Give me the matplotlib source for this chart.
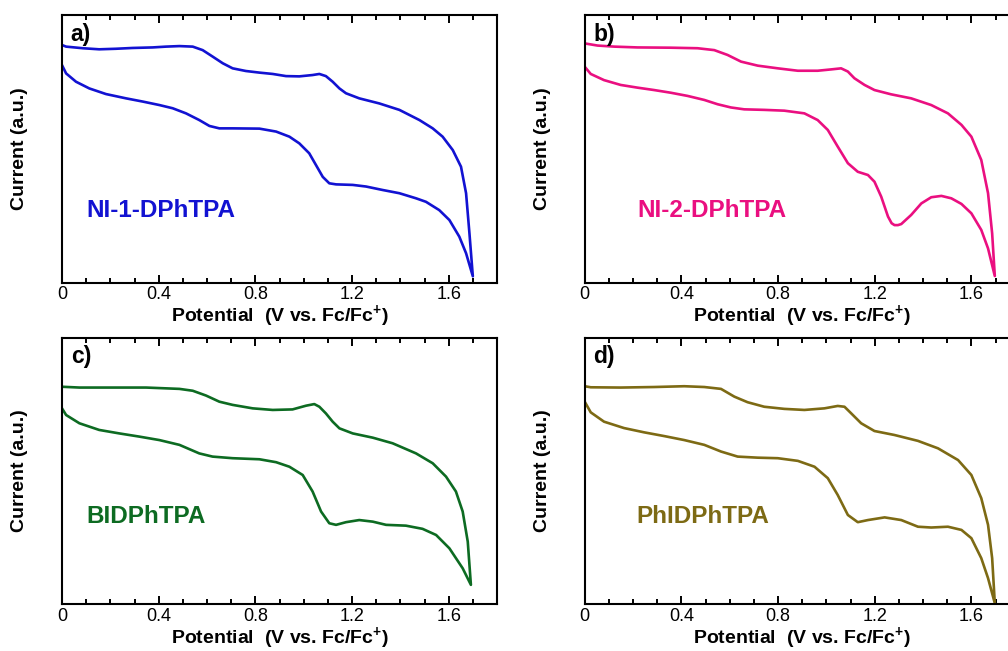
import matplotlib
matplotlib.use("Agg")
from matplotlib import pyplot as plt
from matplotlib.ticker import MultipleLocator

plt.rcParams['font.family'] = ['Liberation Sans', 'DejaVu Sans']
plt.rcParams['mathtext.fontset'] = 'custom'
plt.rcParams['mathtext.rm'] = 'Liberation Sans'
plt.rcParams['mathtext.bf'] = 'Liberation Sans:bold'

# --- data (potential in V, current in a.u.) ---
# a) NI-1-DPhTPA
a_fwd_x = [0, 0.017, 0.058, 0.113, 0.182, 0.265, 0.334, 0.403, 0.458, 0.513, 0.568, 0.610, 0.651,
           0.706, 0.817, 0.886, 0.941, 0.982, 1.023, 1.051, 1.079, 1.106, 1.134, 1.203, 1.258, 1.327,
           1.396, 1.465, 1.506, 1.561, 1.603, 1.644, 1.672, 1.70]
a_fwd_y = [81.3, 78.2, 75.1, 72.6, 70.5, 68.9, 67.7, 66.4, 65.2, 63.3, 60.8, 58.6, 57.7,
           57.7, 57.6, 56.5, 54.6, 52.1, 48.4, 44.0, 39.6, 37.2, 36.8, 36.6, 36.0, 34.7,
           33.5, 31.6, 30.3, 27.2, 23.5, 17.3, 11.1, 2.5]
a_rev_x = [1.70, 1.686, 1.672, 1.651, 1.617, 1.575, 1.534, 1.479, 1.396, 1.313, 1.230, 1.175, 1.148,
           1.120, 1.092, 1.065, 1.037, 0.982, 0.927, 0.872, 0.817, 0.761, 0.706, 0.665, 0.623, 0.582,
           0.541, 0.486, 0.430, 0.375, 0.292, 0.223, 0.154, 0.086, 0.017, 0]
a_rev_y = [2.5, 18.5, 33.5, 43.4, 49.6, 54.6, 57.7, 60.8, 64.6, 67.0, 68.9, 70.8, 72.6,
           75.1, 77.2, 78.0, 77.6, 77.1, 77.2, 78.0, 78.5, 79.1, 80.1, 82.0, 84.5, 86.9,
           88.2, 88.4, 88.2, 87.9, 87.7, 87.4, 87.2, 87.6, 88.2, 88.8]

# b) NI-2-DPhTPA
b_fwd_x = [0, 0.025, 0.080, 0.149, 0.218, 0.287, 0.356, 0.426, 0.495, 0.550, 0.605, 0.660, 0.743,
           0.826, 0.909, 0.964, 1.006, 1.047, 1.089, 1.130, 1.172, 1.199, 1.227, 1.255, 1.270, 1.282,
           1.296, 1.310, 1.351, 1.393, 1.434, 1.476, 1.517, 1.559, 1.600, 1.641, 1.669, 1.697]
b_fwd_y = [80.7, 78.0, 75.7, 73.9, 72.9, 72.0, 71.0, 69.8, 68.3, 66.7, 65.5, 64.8, 64.6,
           64.3, 63.3, 60.8, 57.1, 50.9, 44.7, 41.5, 40.3, 37.8, 32.2, 24.8, 22.3, 21.6,
           21.6, 22.0, 25.4, 29.7, 32.0, 32.5, 31.6, 29.5, 26.0, 19.8, 12.9, 2.6]
b_rev_x = [1.697, 1.686, 1.669, 1.641, 1.600, 1.559, 1.503, 1.434, 1.351, 1.268, 1.199, 1.158, 1.116,
           1.089, 1.061, 1.020, 0.964, 0.882, 0.799, 0.716, 0.647, 0.591, 0.536, 0.467, 0.356, 0.218,
           0.122, 0.053, 0]
b_rev_y = [2.6, 18.5, 33.5, 45.9, 54.6, 59.0, 63.3, 66.4, 68.9, 70.4, 72.0, 73.9, 76.4,
           78.9, 80.1, 79.7, 79.2, 79.2, 80.1, 81.1, 82.6, 85.1, 86.9, 87.6, 87.8, 87.9,
           88.2, 88.6, 89.4]

# c) BIDPhTPA
c_fwd_x = [0, 0.017, 0.072, 0.154, 0.237, 0.320, 0.403, 0.486, 0.568, 0.623, 0.706, 0.817, 0.886,
           0.941, 0.996, 1.037, 1.072, 1.106, 1.134, 1.175, 1.230, 1.286, 1.341, 1.423, 1.492, 1.548,
           1.603, 1.658, 1.692]
c_fwd_y = [73.5, 71.0, 67.9, 65.4, 64.1, 62.9, 61.6, 59.8, 56.6, 55.4, 54.8, 54.4, 53.3,
           51.6, 48.5, 42.3, 34.8, 30.4, 29.8, 30.8, 31.6, 31.0, 29.8, 29.5, 28.3, 26.0,
           21.0, 13.5, 7.3]
c_rev_x = [1.692, 1.679, 1.658, 1.630, 1.589, 1.534, 1.465, 1.368, 1.286, 1.203, 1.148, 1.120, 1.092,
           1.065, 1.044, 1.010, 0.954, 0.872, 0.789, 0.706, 0.651, 0.596, 0.541, 0.486, 0.348, 0.210,
           0.072, 0]
c_rev_y = [7.3, 23.5, 34.8, 42.3, 47.9, 52.9, 56.6, 60.4, 62.5, 64.1, 66.0, 68.5, 71.6,
           74.1, 75.1, 74.5, 73.1, 72.9, 73.5, 74.8, 76.0, 78.3, 80.1, 80.8, 81.3, 81.3,
           81.3, 81.6]

# d) PhIDPhTPA
d_fwd_x = [0, 0.025, 0.080, 0.163, 0.246, 0.329, 0.412, 0.495, 0.564, 0.633, 0.716, 0.799, 0.882,
           0.951, 1.006, 1.047, 1.089, 1.130, 1.172, 1.241, 1.310, 1.379, 1.434, 1.503, 1.559, 1.600,
           1.641, 1.669, 1.697]
d_fwd_y = [76.0, 72.0, 68.5, 66.1, 64.5, 63.1, 61.6, 59.8, 57.3, 55.4, 55.0, 54.8, 53.8,
           51.6, 47.3, 41.0, 33.5, 30.8, 31.6, 32.6, 31.6, 29.1, 28.8, 29.1, 27.9, 24.8,
           17.3, 9.8, 0.4]
d_rev_x = [1.697, 1.686, 1.669, 1.641, 1.600, 1.545, 1.462, 1.379, 1.282, 1.199, 1.144, 1.103, 1.075,
           1.047, 0.992, 0.909, 0.826, 0.743, 0.674, 0.619, 0.564, 0.495, 0.412, 0.287, 0.149, 0.025, 0]
d_rev_y = [0.4, 17.3, 29.8, 39.8, 48.5, 54.1, 58.5, 61.3, 63.5, 65.0, 67.9, 71.6, 74.1,
           74.4, 73.5, 72.9, 73.3, 74.1, 75.8, 77.9, 80.8, 81.5, 81.8, 81.5, 81.3, 81.4, 81.8]

names = ['NI-1-DPhTPA', 'NI-2-DPhTPA', 'BIDPhTPA', 'PhIDPhTPA']
letters = ['a)', 'b)', 'c)', 'd)']
colors = ['#1212d2', '#ea0f80', '#0d6b22', '#7d6a14']
name_pos = [(0.102, 27.2), (0.216, 27.2), (0.102, 32.9), (0.213, 32.9)]

curves = [(a_fwd_x, a_fwd_y, a_rev_x, a_rev_y),
          (b_fwd_x, b_fwd_y, b_rev_x, b_rev_y),
          (c_fwd_x, c_fwd_y, c_rev_x, c_rev_y),
          (d_fwd_x, d_fwd_y, d_rev_x, d_rev_y)]

fig = plt.figure(figsize=(10.08, 6.51), dpi=100)
W, H = 1008, 651
boxes = [(62, 15, 435, 268), (584.7, 15, 435, 268),
         (62, 337.7, 435, 266.6), (584.7, 337.7, 435, 266.6)]

for i, (x0, y0, w, h) in enumerate(boxes):
    ax = fig.add_axes([x0 / W, 1 - (y0 + h) / H, w / W, h / H])
    fx, fy, rx, ry = curves[i]
    ax.plot(fx + rx, fy + ry, color=colors[i], lw=1.9, solid_joinstyle='round')
    ax.set_xlim(0, 1.8)
    ax.set_ylim(0, 100)
    ax.xaxis.set_minor_locator(MultipleLocator(0.1))
    ax.set_xticks([0, 0.4, 0.8, 1.2, 1.6])
    ax.set_xticklabels(['0', '0.4', '0.8', '1.2', '1.6'])
    ax.set_yticks([])
    ax.tick_params(axis='x', which='both', direction='in', top=True, bottom=True,
                   width=1.4, labelsize=13, pad=2.5)
    ax.tick_params(axis='x', which='major', length=6)
    ax.tick_params(axis='x', which='minor', length=3.5)
    for s in ax.spines.values():
        s.set_linewidth(1.5)
    ax.set_xlabel(r'Potential  (V vs. Fc/Fc$^{\mathbf{+}}$)', fontsize=14, fontweight='bold')
    ax.xaxis.set_label_coords(0.5, -34 / h)
    ax.xaxis.label.set_verticalalignment('center')
    ax.set_ylabel('Current (a.u.)', fontsize=14, fontweight='bold')
    ax.yaxis.set_label_coords(-42 / w, 0.5)
    ax.yaxis.label.set_verticalalignment('center')
    ax.text(0.02, 0.929, letters[i], transform=ax.transAxes, fontsize=16.5,
            fontweight='bold', ha='left', va='center')
    ax.text(name_pos[i][0], name_pos[i][1], names[i], color=colors[i], fontsize=17.5,
            fontweight='bold', ha='left', va='center')

fig.savefig('out.png', dpi=100)
